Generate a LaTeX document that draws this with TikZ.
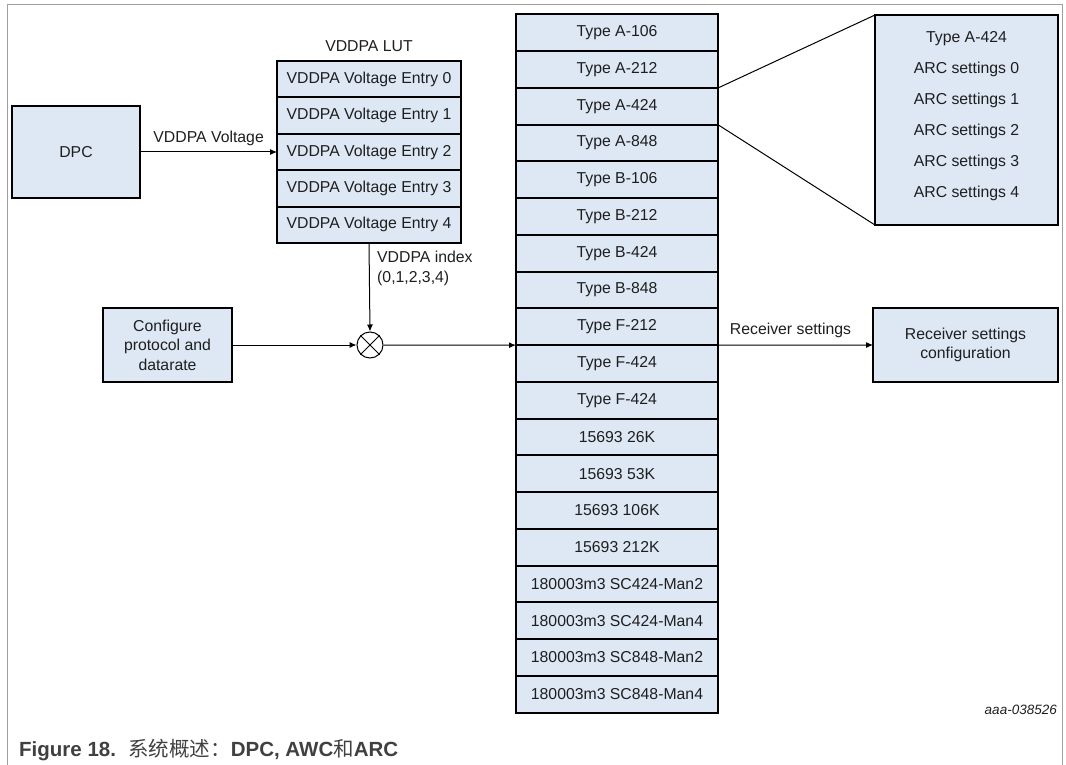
\documentclass[tikz,border=0pt]{standalone}
\usepackage{fontspec}
\setmainfont{Liberation Sans}
\newfontfamily\cjk{Noto Sans CJK SC}
\usetikzlibrary{arrows.meta}
\definecolor{boxfill}{RGB}{222,232,245}
\definecolor{txt}{RGB}{30,30,30}
\definecolor{framegray}{RGB}{160,160,160}
\definecolor{capgray}{RGB}{64,64,64}
\tikzset{
  cell/.style={draw=black, line width=2pt, fill=boxfill, inner sep=0pt, outer sep=0pt,
    text=txt, font=\fontsize{15.8}{19.5}\selectfont, align=center},
  conn/.style={draw=black, line width=1pt},
  arr/.style={conn, -{Latex[length=7pt,width=6pt]}},
  lbl/.style={text=txt, font=\fontsize{15.8}{19.5}\selectfont, inner sep=0pt},
}
\begin{document}
\begin{tikzpicture}[x=1pt,y=-1pt]
\useasboundingbox (0,0) rectangle (1066,765);
% frame
\draw[framegray, line width=1pt] (7.3,765) -- (7.3,5) -- (1062.5,5) -- (1062.5,765);

% DPC
\node[cell, minimum width=128.5pt, minimum height=92pt] (dpc) at (76,152) {DPC};

% LUT
\node[lbl] (lutlbl) at (369,46) {VDDPA LUT};
\foreach \k in {0,...,4} {
  \node[cell, minimum width=184pt, minimum height=36.4pt] (l\k) at (369,{61+36.4*(\k+0.5)}) {VDDPA Voltage Entry \k};
}

% Configure
\node[cell, minimum width=129pt, minimum height=74pt] (cfg) at (167.5,345) {Configure\\protocol and\\datarate};

% multiplier
\node[draw=black, line width=1pt, circle, minimum size=26pt, inner sep=0pt, fill=white] (mul) at (370,345) {};
\draw[conn] (mul.north west) -- (mul.south east);
\draw[conn] (mul.north east) -- (mul.south west);

% big table
\foreach \k/\t in {0/Type A-106,1/Type A-212,2/Type A-424,3/Type A-848,4/Type B-106,5/Type B-212,6/Type B-424,7/Type B-848,8/Type F-212,9/Type F-424,10/Type F-424,11/15693 26K,12/15693 53K,13/15693 106K,14/15693 212K,15/180003m3 SC424-Man2,16/180003m3 SC424-Man4,17/180003m3 SC848-Man2,18/180003m3 SC848-Man4} {
  \node[cell, minimum width=202pt, minimum height=36.74pt] (t\k) at (617,{14.5+36.74*(\k+0.5)}) {\t};
}

% ARC box
\node[cell, minimum width=183pt, minimum height=210pt] (arc) at (966.5,120) {};
\node[lbl, align=center, font=\fontsize{15.8}{31}\selectfont] (arctxt) at (966.5,116.5) {Type A-424\\ARC settings 0\\ARC settings 1\\ARC settings 2\\ARC settings 3\\ARC settings 4};

% Receiver box
\node[cell, minimum width=185pt, minimum height=74pt] (recv) at (965.5,345) {Receiver settings\\configuration};

% connectors
\draw[arr] (dpc.east |- l2.west) -- node[lbl, above=6pt] {VDDPA Voltage} (l2.west);
\draw[arr] (l4.south) -- (mul.north);
\node[lbl, anchor=west, align=left, font=\fontsize{15.8}{20}\selectfont] (idx) at (377,268) {VDDPA index\\(0,1,2,3,4)};
\draw[arr] (cfg.east) -- (mul.west);
\draw[arr] (mul.east) -- (t8.south west);
\draw[arr] (t8.south east) -- node[lbl, above=7pt, xshift=-5pt] {Receiver settings} (recv.west);
\draw[conn] (t2.north east) -- (arc.north west);
\draw[conn] (t2.south east) -- (arc.south west);

% id
\node[lbl, anchor=east, font=\fontsize{13.5}{16}\selectfont\itshape] (id) at (1057,710) {aaa-038526};

% caption
\node[anchor=base west, inner sep=0pt, text=capgray, font=\fontsize{20.5}{24}\selectfont] (cap) at (19,756.5)
  {\textbf{Figure 18.}\hspace{0.6em}{\cjk 系统概述：}\textbf{DPC, AWC}{\cjk 和}\textbf{ARC}};
\end{tikzpicture}
\end{document}
